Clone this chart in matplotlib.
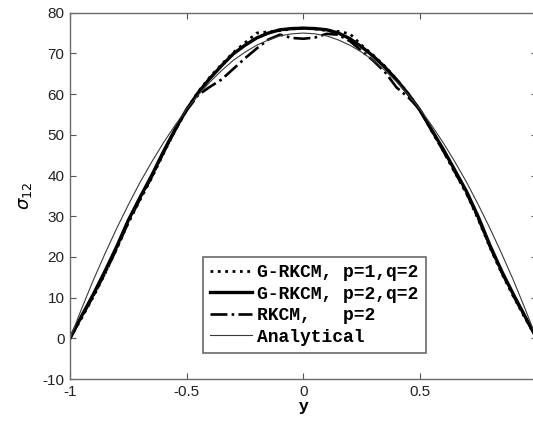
import numpy as np
import matplotlib
matplotlib.use('Agg')
import matplotlib.pyplot as plt

# position y across the section
y_pos = [-1.00, -0.95, -0.90, -0.85, -0.80, -0.75, -0.70, -0.65, -0.60, -0.55,
         -0.50, -0.45, -0.40, -0.35, -0.30, -0.25, -0.20, -0.15, -0.10, -0.05,
         0.00, 0.05, 0.10, 0.15, 0.20, 0.25, 0.30, 0.35, 0.40, 0.45,
         0.50, 0.55, 0.60, 0.65, 0.70, 0.75, 0.80, 0.85, 0.90, 0.95, 1.00]

# G-RKCM, p=1, q=2 (dotted)
s_grkcm_p1 = [0.0, 5.0, 10.2, 15.9, 22.0, 28.4, 34.0, 39.4, 45.3, 51.0,
              56.3, 60.6, 64.2, 67.3, 70.2, 72.6, 75.0, 75.3, 75.6, 76.0,
              76.2, 76.0, 75.6, 75.4, 74.8, 72.0, 69.5, 66.8, 63.6, 60.0,
              56.1, 51.0, 46.0, 40.7, 35.5, 29.2, 22.3, 16.0, 10.3, 5.0, 0.0]

# G-RKCM, p=2, q=2 (solid thick)
s_grkcm_p2 = [0.0, 5.5, 10.8, 16.5, 22.5, 29.0, 34.6, 40.0, 45.8, 51.3,
              56.2, 60.4, 63.9, 67.0, 69.9, 72.0, 73.8, 75.0, 75.8, 76.1,
              76.2, 76.1, 75.8, 75.0, 73.6, 71.6, 69.3, 66.6, 63.5, 60.0,
              56.0, 51.2, 46.4, 41.2, 36.0, 29.8, 22.8, 16.5, 10.8, 5.4, 0.0]

# RKCM, p=2 (dash-dot)
s_rkcm = [0.0, 5.2, 10.4, 16.0, 22.0, 28.5, 34.2, 39.6, 45.5, 51.0,
          56.0, 59.8, 61.8, 63.6, 66.2, 68.8, 71.2, 73.4, 74.6, 73.8,
          73.6, 73.9, 74.8, 74.6, 73.0, 70.6, 68.2, 65.4, 61.6, 59.2,
          56.2, 51.0, 46.0, 40.8, 35.6, 29.4, 22.5, 16.2, 10.5, 5.2, 0.0]

# analytical solution
s_exact = [0.0, 7.3, 14.3, 20.8, 27.0, 32.8, 38.3, 43.3, 48.0, 52.3,
           56.3, 59.8, 63.0, 65.8, 68.3, 70.3, 72.0, 73.3, 74.3, 74.8,
           75.0, 74.8, 74.3, 73.3, 72.0, 70.3, 68.3, 65.8, 63.0, 59.8,
           56.3, 52.3, 48.0, 43.3, 38.3, 32.8, 27.0, 20.8, 14.3, 7.3, 0.0]

labels = ['G-RKCM, p=1,q=2', 'G-RKCM, p=2,q=2', 'RKCM,   p=2', 'Analytical']
x_ticks = [-1, -0.5, 0, 0.5, 1]
x_ticklabels = ['-1', '-0.5', '0', '0.5', '']  # "1" falls outside the picture
y_ticks = np.arange(-10, 81, 10)

plt.rcParams['font.family'] = ['Liberation Sans', 'DejaVu Sans']
plt.rcParams['axes.unicode_minus'] = False

fig = plt.figure(figsize=(5.33, 4.26), dpi=100)
ax = fig.add_axes([0.1313, 0.1103, 0.8756, 0.8599])

ax.plot(y_pos, s_grkcm_p1, ':', color='black', lw=2.0, label=labels[0])
ax.plot(y_pos, s_grkcm_p2, '-', color='black', lw=2.4, label=labels[1])
ax.plot(y_pos, s_rkcm, '-.', color='black', lw=1.9, label=labels[2])
ax.plot(y_pos, s_exact, '-', color='#3a3a3a', lw=0.8, label=labels[3])

ax.set_xlim(-1, 1)
ax.set_ylim(-10, 80)
ax.set_xticks(x_ticks)
ax.set_xticklabels(x_ticklabels)
ax.set_yticks(y_ticks)
ax.tick_params(direction='in', length=4, width=0.8, colors='#555555',
               labelcolor='#222222', labelsize=11, top=True, right=True)
ax.tick_params(axis='y', pad=4)
ax.tick_params(axis='x', pad=4)
for sp in ax.spines.values():
    sp.set_color('#6a6a6a')
    sp.set_linewidth(1.0)

ax.set_xlabel('y', fontsize=12.5, fontweight='bold', labelpad=0)
ax.set_ylabel(r'$\sigma_{12}$', fontsize=13, labelpad=6)

leg = ax.legend(loc='upper left', bbox_to_anchor=(0.285, 0.333), borderaxespad=0,
                prop={'family': 'Liberation Mono', 'weight': 'bold', 'size': 13},
                fancybox=False, framealpha=1, edgecolor='#6a6a6a',
                handlelength=2.3, handletextpad=0.3, labelspacing=0.25,
                borderpad=0.4)
leg.get_frame().set_linewidth(1.2)

fig.savefig('out.png', dpi=100)
